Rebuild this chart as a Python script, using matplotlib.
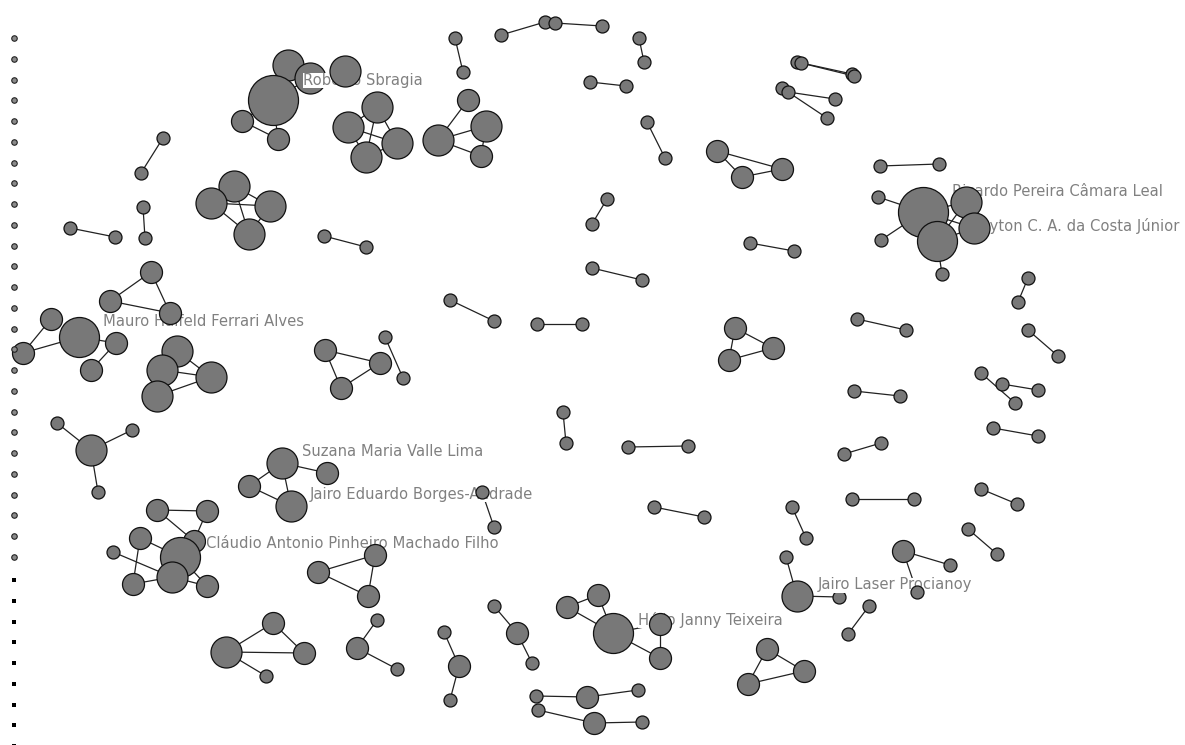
import matplotlib
matplotlib.use("Agg")
import matplotlib.pyplot as plt

# node positions (layout coords, y grows downward) and weight class 1..5
node_x = [288, 310, 273, 242, 278,
          345, 377, 348, 397, 366,
          468, 438, 486, 481,
          455, 463, 501, 545, 555, 602, 639, 644, 590, 626, 647, 665,
          717, 742, 782,
          797, 801, 852, 854, 782, 788, 835, 827,
          163, 141, 143, 145, 70, 115,
          234, 211, 270, 249, 324, 366,
          151, 110, 170,
          51, 79, 23, 116, 91,
          177, 162, 211, 157,
          325, 380, 341, 385, 403,
          57, 91, 132, 98,
          282, 327, 249, 291, 482, 494,
          157, 207, 140, 194, 113, 180, 172, 133, 207,
          375, 318, 368,
          273, 226, 304, 266,
          377, 357, 397, 444, 459, 450, 494, 517, 532,
          536, 587, 638, 538, 594, 642,
          567, 598, 613, 660, 660,
          767, 804, 748,
          786, 797, 839, 869, 848, 903, 950, 917,
          880, 939, 878, 923, 966, 937, 974, 881, 942,
          1028, 1018, 857, 906, 1028, 1058, 854, 900, 981, 1015, 1002, 1038,
          993, 1038, 881, 844, 852, 914, 981, 1017, 968, 997,
          607, 592, 592, 642, 750, 794, 450, 494, 537, 582,
          735, 773, 729,
          563, 566, 628, 688, 654, 704, 792, 806]
node_y = [65, 78, 100, 121, 139,
          71, 107, 127, 143, 157,
          100, 140, 126, 156,
          38, 72, 35, 22, 23, 26, 38, 62, 82, 86, 122, 158,
          151, 177, 169,
          62, 63, 74, 76, 88, 92, 99, 118,
          138, 173, 207, 238, 228, 237,
          186, 203, 206, 234, 236, 247,
          272, 301, 313,
          319, 337, 353, 343, 370,
          351, 370, 377, 396,
          350, 363, 388, 337, 378,
          423, 450, 430, 492,
          463, 473, 486, 506, 492, 527,
          510, 511, 538, 541, 552, 557, 577, 584, 586,
          555, 572, 596,
          623, 652, 653, 676,
          620, 648, 669, 632, 666, 700, 606, 633, 663,
          696, 697, 690, 710, 723, 722,
          607, 595, 633, 624, 658,
          649, 671, 684,
          557, 596, 597, 606, 634, 551, 565, 592,
          166, 164, 197, 212, 202, 241, 228, 240, 274,
          278, 302, 319, 330, 330, 356, 391, 396, 373, 403, 384, 390,
          428, 436, 443, 454, 499, 499, 489, 504, 529, 554,
          199, 224, 268, 280, 243, 251, 300, 321, 324, 324,
          328, 348, 360,
          412, 443, 447, 446, 507, 517, 507, 538]
node_w = [3, 3, 5, 2, 2,
          3, 3, 3, 3, 3,
          2, 3, 3, 2,
          1, 1, 1, 1, 1, 1, 1, 1, 1, 1, 1, 1,
          2, 2, 2,
          1, 1, 1, 1, 1, 1, 1, 1,
          1, 1, 1, 1, 1, 1,
          3, 3, 3, 3, 1, 1,
          2, 2, 2,
          2, 4, 2, 2, 2,
          3, 3, 3, 3,
          2, 2, 2, 1, 1,
          1, 3, 1, 1,
          3, 2, 2, 3, 1, 1,
          2, 2, 2, 2, 1, 4, 3, 2, 2,
          2, 2, 2,
          2, 3, 2, 1,
          1, 2, 1, 1, 2, 1, 1, 2, 1,
          1, 2, 1, 1, 2, 1,
          2, 2, 4, 2, 2,
          2, 2, 2,
          1, 3, 1, 1, 1, 2, 1, 1,
          1, 1, 1, 5, 3, 4, 3, 1, 1,
          1, 1, 1, 1, 1, 1, 1, 1, 1, 1, 1, 1,
          1, 1, 1, 1, 1, 1, 1, 1, 1, 1,
          1, 1, 1, 1, 1, 1, 1, 1, 1, 1,
          2, 2, 2,
          1, 1, 1, 1, 1, 1, 1, 1]

edges = [(2, 0), (2, 1), (2, 3), (2, 4), (3, 4), (0, 1), (5, 1),
         (6, 7), (6, 8), (6, 9), (7, 9), (8, 9), (7, 8),
         (11, 10), (11, 12), (11, 13), (12, 13),
         (14, 15), (16, 17), (17, 18), (18, 19), (20, 21), (22, 23), (24, 25),
         (26, 27), (26, 28), (27, 28),
         (29, 31), (30, 32), (34, 35), (33, 36),
         (37, 38), (39, 40), (41, 42),
         (43, 44), (43, 45), (44, 45), (44, 46), (45, 46), (43, 46), (47, 48),
         (49, 50), (49, 51), (50, 51),
         (52, 54), (54, 53), (53, 55), (55, 56),
         (57, 58), (57, 59), (58, 59), (59, 60), (58, 60),
         (61, 62), (61, 63), (62, 63), (64, 65),
         (66, 67), (67, 68), (67, 69),
         (70, 71), (70, 72), (72, 73), (70, 73), (74, 75),
         (76, 77), (76, 79), (77, 79), (78, 83), (78, 81), (80, 82),
         (83, 82), (81, 84), (81, 79), (82, 84),
         (85, 86), (85, 87), (86, 87),
         (89, 88), (88, 90), (89, 90), (89, 91),
         (93, 92), (93, 94), (95, 96), (96, 97), (98, 99), (99, 100),
         (101, 102), (102, 103), (104, 105), (105, 106),
         (107, 108), (107, 109), (108, 109), (109, 110), (109, 111), (110, 111),
         (112, 113), (112, 114), (113, 114),
         (115, 116), (116, 117), (118, 119), (120, 121), (120, 122),
         (123, 124), (125, 126), (130, 126), (126, 127), (126, 129), (126, 128),
         (128, 127), (128, 129), (127, 129), (128, 131),
         (132, 133), (134, 135), (136, 137), (138, 139), (140, 141), (142, 143),
         (144, 145), (146, 147), (148, 149), (150, 151), (152, 153),
         (154, 155), (156, 157), (158, 159), (160, 161), (162, 163),
         (164, 165), (164, 166), (165, 166),
         (167, 168), (169, 170), (171, 172), (173, 174)]

labels = ["Roberto Sbragia", "Ricardo Pereira Câmara Leal",
          "Clayton C. A. da Costa Júnior", "Mauro Halfeld Ferrari Alves",
          "Suzana Maria Valle Lima", "Jairo Eduardo Borges-Andrade",
          "Cláudio Antonio Pinheiro Machado Filho", "Hélio Janny Teixeira",
          "Jairo Laser Procianoy"]
label_x = [303, 952, 966, 103, 302, 310, 206, 638, 818]
label_y = [80, 192, 226, 322, 452, 494, 543, 620, 585]

# isolated nodes listed down the left edge
n_round = 26
n_square = 9

# nodes drawn above the labels
front = {5, 127, 129, 51, 74, 85, 110, 122}

radius = {1: 6.5, 2: 11, 3: 15.5, 4: 20, 5: 25}

fig = plt.figure(figsize=(11.85, 7.45), dpi=100)
ax = fig.add_axes([0, 0, 1, 1])
ax.set_xlim(0, 1185)
ax.set_ylim(745, 0)
ax.axis("off")

for a, b in edges:
    ax.plot([node_x[a], node_x[b]], [node_y[a], node_y[b]],
            color="#222222", lw=0.9, zorder=1)

px2pt = 72 / 100
for i in range(len(node_x)):
    d = 2 * radius[node_w[i]] * px2pt
    ax.scatter(node_x[i], node_y[i], s=d ** 2, color="#787878",
               edgecolors="#111111", linewidths=0.9,
               zorder=4 if i in front else 2)

for txt, x, y in zip(labels, label_x, label_y):
    ax.text(x, y, txt, fontsize=10.6, color="#808080", family="DejaVu Sans",
            ha="left", va="center", zorder=3,
            bbox=dict(facecolor="white", edgecolor="none", pad=0))

# left column of isolates
col_y = [38 + 20.75 * k for k in range(n_round)]
ax.scatter([14] * n_round, col_y, s=(5.5 * px2pt) ** 2, color="#8a8a8a",
           edgecolors="#222222", linewidths=0.8, zorder=2)
sq_y = [580 + 20.75 * k for k in range(n_square)]
ax.scatter([14] * n_square, sq_y, s=(5 * px2pt) ** 2, marker="s",
           color="black", linewidths=0, zorder=2)

fig.savefig("out.png", dpi=100, facecolor="white")
